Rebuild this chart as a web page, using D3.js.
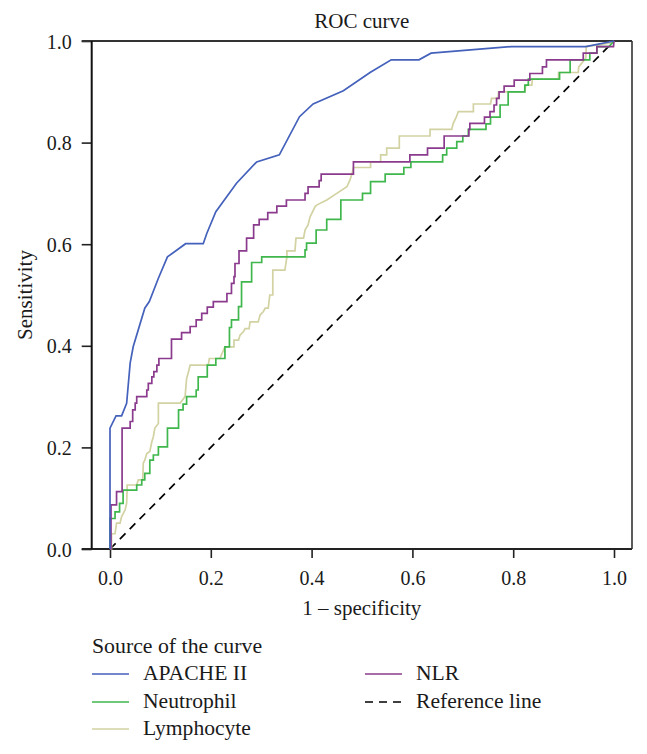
<!DOCTYPE html>
<html>
<head>
<meta charset="utf-8">
<script src="https://cdn.jsdelivr.net/npm/d3@7"></script>
<style>
  html, body { margin: 0; padding: 0; background: #fff; }
  svg text { font-family: "Liberation Serif", "DejaVu Serif", serif !important; fill: #1a1a1a; }
</style>
</head>
<body>
<svg id="chart" width="647" height="754" font-family="Liberation Serif, DejaVu Serif, serif"></svg>
<script>
// ---------- DATA (1 - specificity, sensitivity) ----------
const xTicks = [0, 0.2, 0.4, 0.6, 0.8, 1.0];
const yTicks = [0, 0.2, 0.4, 0.6, 0.8, 1.0];

const apacheII = [[0,0],[0,0.238],[0.012,0.262],[0.023,0.262],[0.033,0.287],[0.040,0.366],[0.046,0.398],
  [0.069,0.474],[0.078,0.487],[0.096,0.533],[0.114,0.575],[0.150,0.601],[0.185,0.601],[0.192,0.621],
  [0.210,0.664],[0.251,0.720],[0.291,0.762],[0.336,0.776],[0.376,0.851],[0.403,0.876],[0.463,0.902],
  [0.516,0.938],[0.558,0.963],[0.613,0.963],[0.637,0.976],[0.797,0.989],[0.944,0.989],[1,1]];

const neutrophil = [[0,0],[0,0.060],[0.010,0.060],[0.010,0.073],[0.019,0.073],[0.019,0.090],[0.026,0.090],
  [0.026,0.116],[0.053,0.116],[0.053,0.126],[0.063,0.126],[0.063,0.136],[0.069,0.136],[0.069,0.149],
  [0.079,0.149],[0.079,0.175],[0.086,0.175],[0.086,0.185],[0.096,0.185],[0.096,0.201],[0.114,0.201],
  [0.114,0.238],[0.136,0.238],[0.136,0.274],[0.145,0.274],[0.145,0.285],[0.152,0.285],[0.152,0.300],
  [0.171,0.300],[0.171,0.313],[0.175,0.313],[0.175,0.339],[0.193,0.339],[0.193,0.362],[0.210,0.362],
  [0.210,0.375],[0.228,0.375],[0.228,0.398],[0.237,0.398],[0.237,0.436],[0.241,0.436],[0.241,0.451],
  [0.255,0.451],[0.255,0.477],[0.261,0.477],[0.261,0.526],[0.281,0.526],[0.281,0.564],[0.301,0.564],
  [0.301,0.575],[0.387,0.575],[0.387,0.589],[0.390,0.589],[0.390,0.602],[0.409,0.602],[0.409,0.628],
  [0.430,0.628],[0.430,0.649],[0.458,0.649],[0.458,0.687],[0.501,0.687],[0.501,0.700],[0.517,0.700],
  [0.517,0.723],[0.546,0.723],[0.546,0.738],[0.583,0.738],[0.583,0.751],[0.597,0.751],[0.597,0.762],
  [0.660,0.762],[0.660,0.776],[0.668,0.776],[0.668,0.789],[0.688,0.789],[0.688,0.802],[0.700,0.802],
  [0.700,0.813],[0.711,0.813],[0.711,0.826],[0.746,0.826],[0.746,0.837],[0.755,0.837],[0.755,0.850],
  [0.774,0.850],[0.774,0.874],[0.790,0.874],[0.790,0.900],[0.823,0.900],[0.823,0.913],[0.830,0.913],
  [0.830,0.925],[0.892,0.925],[0.892,0.938],[0.913,0.938],[0.913,0.963],[0.952,0.963],[0.952,0.976],
  [0.966,0.976],[0.966,0.989],[0.990,0.989],[1,1]];

const lymphocyte = [[0,0],[0.003,0],[0.003,0.030],[0.010,0.030],[0.013,0.051],[0.020,0.051],[0.023,0.064],
  [0.030,0.077],[0.033,0.090],[0.034,0.116],[0.034,0.126],[0.053,0.126],[0.056,0.136],[0.065,0.136],
  [0.066,0.169],[0.069,0.175],[0.073,0.188],[0.079,0.192],[0.083,0.211],[0.086,0.221],[0.089,0.238],
  [0.096,0.247],[0.096,0.287],[0.139,0.287],[0.149,0.300],[0.152,0.336],[0.155,0.346],[0.159,0.362],
  [0.195,0.362],[0.197,0.375],[0.218,0.375],[0.228,0.398],[0.246,0.398],[0.246,0.411],[0.255,0.411],
  [0.258,0.421],[0.265,0.428],[0.268,0.434],[0.276,0.434],[0.278,0.447],[0.294,0.447],[0.298,0.461],
  [0.304,0.467],[0.308,0.474],[0.314,0.474],[0.317,0.500],[0.323,0.500],[0.323,0.549],[0.347,0.549],
  [0.351,0.575],[0.351,0.587],[0.367,0.587],[0.369,0.612],[0.384,0.612],[0.387,0.628],[0.393,0.638],
  [0.397,0.654],[0.407,0.674],[0.410,0.677],[0.430,0.687],[0.450,0.700],[0.470,0.713],[0.476,0.726],
  [0.480,0.738],[0.483,0.751],[0.517,0.751],[0.517,0.762],[0.537,0.762],[0.537,0.776],[0.549,0.776],
  [0.549,0.789],[0.574,0.789],[0.574,0.813],[0.635,0.813],[0.635,0.826],[0.678,0.826],[0.681,0.838],
  [0.687,0.850],[0.691,0.861],[0.721,0.861],[0.721,0.876],[0.755,0.876],[0.757,0.887],[0.770,0.887],
  [0.771,0.900],[0.823,0.900],[0.825,0.913],[0.837,0.913],[0.838,0.925],[0.890,0.925],[0.890,0.938],
  [0.929,0.938],[0.930,0.949],[0.944,0.966],[0.945,0.989],[0.999,0.997],[1,1]];

const nlr = [[0,0],[0.002,0],[0.002,0.087],[0.013,0.087],[0.013,0.113],[0.024,0.113],[0.024,0.238],
  [0.040,0.238],[0.040,0.251],[0.045,0.251],[0.045,0.274],[0.050,0.274],[0.050,0.287],[0.053,0.287],
  [0.053,0.300],[0.073,0.300],[0.073,0.313],[0.076,0.313],[0.076,0.326],[0.083,0.326],[0.083,0.339],
  [0.087,0.339],[0.087,0.349],[0.093,0.349],[0.093,0.362],[0.097,0.362],[0.097,0.375],[0.122,0.375],
  [0.122,0.413],[0.142,0.413],[0.142,0.426],[0.159,0.426],[0.159,0.438],[0.171,0.438],[0.171,0.451],
  [0.182,0.451],[0.182,0.464],[0.193,0.464],[0.193,0.476],[0.205,0.476],[0.205,0.487],[0.232,0.487],
  [0.232,0.503],[0.241,0.503],[0.241,0.523],[0.246,0.523],[0.246,0.536],[0.248,0.536],[0.248,0.562],
  [0.256,0.562],[0.256,0.587],[0.271,0.587],[0.271,0.612],[0.285,0.612],[0.285,0.638],[0.296,0.638],
  [0.296,0.649],[0.313,0.649],[0.313,0.662],[0.331,0.662],[0.331,0.675],[0.350,0.675],[0.350,0.687],
  [0.387,0.687],[0.387,0.700],[0.393,0.700],[0.393,0.713],[0.415,0.713],[0.415,0.725],[0.419,0.725],
  [0.419,0.738],[0.483,0.738],[0.483,0.762],[0.595,0.762],[0.595,0.776],[0.630,0.776],[0.630,0.789],
  [0.663,0.789],[0.663,0.813],[0.712,0.813],[0.712,0.826],[0.714,0.826],[0.714,0.838],[0.743,0.838],
  [0.743,0.850],[0.754,0.850],[0.754,0.861],[0.762,0.861],[0.762,0.874],[0.767,0.874],[0.767,0.887],
  [0.772,0.887],[0.772,0.900],[0.782,0.900],[0.782,0.911],[0.802,0.911],[0.802,0.923],[0.833,0.923],
  [0.833,0.936],[0.858,0.936],[0.858,0.949],[0.866,0.949],[0.866,0.963],[0.939,0.963],[0.939,0.976],
  [0.966,0.976],[0.966,0.989],[0.999,0.989],[1,1]];

const referenceLine = [[0,0],[1,1]];

const seriesNames = ["APACHE II", "Neutrophil", "Lymphocyte", "NLR", "Reference line"];
const seriesColors = ["#4461bb", "#3fb74c", "#d2d2a2", "#8b3b8d", "#000000"];

// ---------- CHART ----------
const FONT = "Liberation Serif, DejaVu Serif, serif";
const svg = d3.select("#chart");
const x = d3.scaleLinear().domain([0, 1]).range([110, 614]);
const y = d3.scaleLinear().domain([0, 1]).range([549, 41]);
const plotL = 91.7, plotR = 632, plotT = 41, plotB = 549;

// Axes
const xAxis = d3.axisBottom(x).tickValues(xTicks).tickFormat(d3.format(".1f")).tickSize(9).tickPadding(8);
const gx = svg.append("g").attr("transform", `translate(0,${plotB})`).call(xAxis)
  .attr("font-family", FONT);
gx.select(".domain").remove();
gx.selectAll(".tick line").attr("stroke", "#222").attr("stroke-width", 1.6);
gx.selectAll(".tick text").attr("font-size", 20).attr("font-family", FONT).attr("dy", "0.95em");

const yAxis = d3.axisLeft(y).tickValues(yTicks).tickFormat(d3.format(".1f")).tickSize(10).tickPadding(10);
const gy = svg.append("g").attr("transform", `translate(${plotL},0)`).call(yAxis)
  .attr("font-family", FONT);
gy.select(".domain").remove();
gy.selectAll(".tick line").attr("stroke", "#222").attr("stroke-width", 1.6);
gy.selectAll(".tick text").attr("font-size", 20).attr("font-family", FONT).attr("dy", "0.35em");

// Frame
svg.append("line").attr("x1", plotL - 10).attr("x2", plotR).attr("y1", plotT).attr("y2", plotT)
  .attr("stroke", "#333").attr("stroke-width", 2);
svg.append("line").attr("x1", plotL - 10).attr("x2", plotR).attr("y1", plotB).attr("y2", plotB)
  .attr("stroke", "#222").attr("stroke-width", 2);
svg.append("line").attr("x1", plotL).attr("x2", plotL).attr("y1", plotT).attr("y2", plotB)
  .attr("stroke", "#111").attr("stroke-width", 2);
svg.append("line").attr("x1", plotR).attr("x2", plotR).attr("y1", plotT).attr("y2", plotB)
  .attr("stroke", "#333").attr("stroke-width", 1.6);

// Curves
const line = d3.line().x(d => x(d[0])).y(d => y(d[1]));
svg.append("path").datum(referenceLine).attr("d", line).attr("fill", "none")
  .attr("stroke", seriesColors[4]).attr("stroke-width", 1.7).attr("stroke-dasharray", "8,6");
[lymphocyte, neutrophil, nlr, apacheII].forEach((data, i) => {
  const col = [seriesColors[2], seriesColors[1], seriesColors[3], seriesColors[0]][i];
  svg.append("path").datum(data).attr("d", line).attr("fill", "none")
    .attr("stroke", col).attr("stroke-width", 1.7).attr("stroke-linejoin", "miter");
});

// Titles
const addText = (sel) => sel.attr("font-family", FONT).attr("fill", "#1a1a1a");
addText(svg.append("text")).attr("x", (plotL + plotR) / 2).attr("y", 28).attr("text-anchor", "middle")
  .attr("font-size", 21).text("ROC curve");
addText(svg.append("text")).attr("x", (plotL + plotR) / 2).attr("y", 615).attr("text-anchor", "middle")
  .attr("font-size", 21).text("1 – specificity");
addText(svg.append("text")).attr("transform", `translate(32,${(plotT + plotB) / 2}) rotate(-90)`)
  .attr("text-anchor", "middle").attr("font-size", 21).text("Sensitivity");

// Legend
addText(svg.append("text")).attr("x", 92).attr("y", 653).attr("font-size", 21.8).text("Source of the curve");
const legendPos = [[92, 680], [92, 708], [92, 735], [365, 680], [365, 708]];
seriesNames.forEach((name, i) => {
  const [lx, ly] = legendPos[i];
  svg.append("line").attr("x1", lx).attr("x2", lx + 37).attr("y1", ly - 6).attr("y2", ly - 6)
    .attr("stroke", seriesColors[i]).attr("stroke-width", 1.7)
    .attr("stroke-dasharray", i === 4 ? "8,6" : null);
  addText(svg.append("text")).attr("x", lx + 51).attr("y", ly).attr("font-size", 21.6).text(name);
});
</script>
</body>
</html>
